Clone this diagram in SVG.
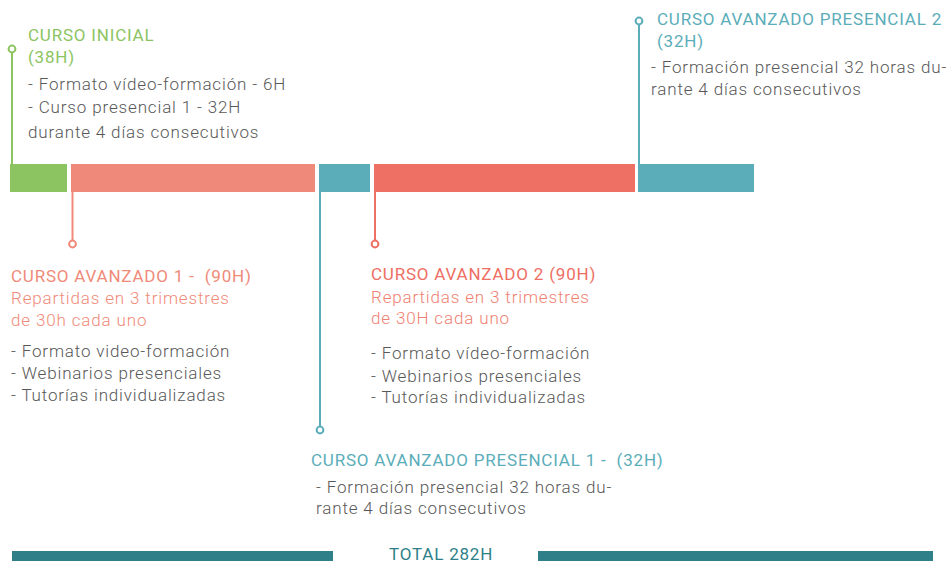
<svg xmlns="http://www.w3.org/2000/svg" width="946" height="561" viewBox="0 0 946 561">
<style>
text{font-family:Roboto,"Liberation Sans",sans-serif;white-space:pre}
.t{font-size:17px;font-weight:400;letter-spacing:0.8px}
.b{font-size:17px;font-weight:300;fill:#585858;letter-spacing:0.85px}
.g{fill:#8cc462}.s{fill:#f08a79}.r{fill:#ee6e63}.c{fill:#5badb9}
.ln{stroke-width:2;fill:none}
.dot{stroke-width:2;fill:#fff}
</style>
<rect width="946" height="561" fill="#fff"/>
<g id="bars">
<rect x="10" y="164" width="57" height="28" fill="#8bc460"/>
<rect x="71" y="164" width="244" height="28" fill="#ef8a7a"/>
<rect x="319" y="164" width="51" height="28" fill="#5badb9"/>
<rect x="374" y="164" width="261" height="28" fill="#ee6f64"/>
<rect x="638" y="164" width="116" height="28" fill="#5badb9"/>
</g>
<g id="connectors">
<line class="ln" x1="12" y1="53" x2="12" y2="164" stroke="#8bc460"/>
<line class="ln" x1="72.5" y1="192" x2="72.5" y2="240" stroke="#ef8a7a"/>
<line class="ln" x1="320" y1="192" x2="320" y2="426" stroke="#5badb9"/>
<line class="ln" x1="375" y1="192" x2="375" y2="240" stroke="#ee6f64"/>
<line class="ln" x1="639" y1="25" x2="639" y2="164" stroke="#5badb9"/>
<circle class="dot" cx="12" cy="49" r="3.4" stroke="#8bc460"/>
<circle class="dot" cx="72.5" cy="244" r="3.4" stroke="#ef8a7a"/>
<circle class="dot" cx="320" cy="430" r="3.4" stroke="#5badb9"/>
<circle class="dot" cx="375" cy="244" r="3.4" stroke="#ee6f64"/>
<circle class="dot" cx="639" cy="21" r="3.4" stroke="#5badb9"/>
</g>
<g id="curso-inicial">
<text class="t g" x="28" y="41">CURSO INICIAL</text>
<text class="t g" x="28" y="63">(38H)</text>
<text class="b" x="28" y="90">- Formato vídeo-formación - 6H</text>
<text class="b" x="28" y="112.5">- Curso presencial 1 - 32H</text>
<text class="b" x="28" y="137.5">durante 4 días consecutivos</text>
</g>
<g id="curso-avanzado-1">
<text class="t s" x="11" y="281.5">CURSO AVANZADO 1 -  (90H)</text>
<text class="b" x="11" y="304" style="fill:#f08a79">Repartidas en 3 trimestres</text>
<text class="b" x="11" y="326" style="fill:#f08a79">de 30h cada uno</text>
<text class="b" x="11" y="356.5">- Formato video-formación</text>
<text class="b" x="11" y="379">- Webinarios presenciales</text>
<text class="b" x="11" y="401">- Tutorías individualizadas</text>
</g>
<g id="curso-avanzado-2">
<text class="t r" x="371" y="280">CURSO AVANZADO 2 (90H)</text>
<text class="b" x="371" y="302.5" style="fill:#ef7f72">Repartidas en 3 trimestres</text>
<text class="b" x="371" y="324" style="fill:#ef7f72">de 30H cada uno</text>
<text class="b" x="371" y="359">- Formato vídeo-formación</text>
<text class="b" x="371" y="381.5">- Webinarios presenciales</text>
<text class="b" x="371" y="403">- Tutorías individualizadas</text>
</g>
<g id="curso-presencial-1">
<text class="t c" x="311" y="466">CURSO AVANZADO PRESENCIAL 1 -  (32H)</text>
<text class="b" x="316" y="492.5">- Formación presencial 32 horas du-</text>
<text class="b" x="316" y="514">rante 4 días consecutivos</text>
</g>
<g id="curso-presencial-2">
<text class="t c" x="657" y="25">CURSO AVANZADO PRESENCIAL 2</text>
<text class="t c" x="657" y="47">(32H)</text>
<text class="b" x="651" y="73">- Formación presencial 32 horas du-</text>
<text class="b" x="651" y="95">rante 4 días consecutivos</text>
</g>
<g id="total">
<rect x="12" y="551" width="321" height="12" fill="#2e7f88"/>
<rect x="538" y="551" width="395" height="12" fill="#2e7f88"/>
<text class="t" x="389" y="560" style="fill:#2e7f88">TOTAL 282H</text>
</g>
</svg>
